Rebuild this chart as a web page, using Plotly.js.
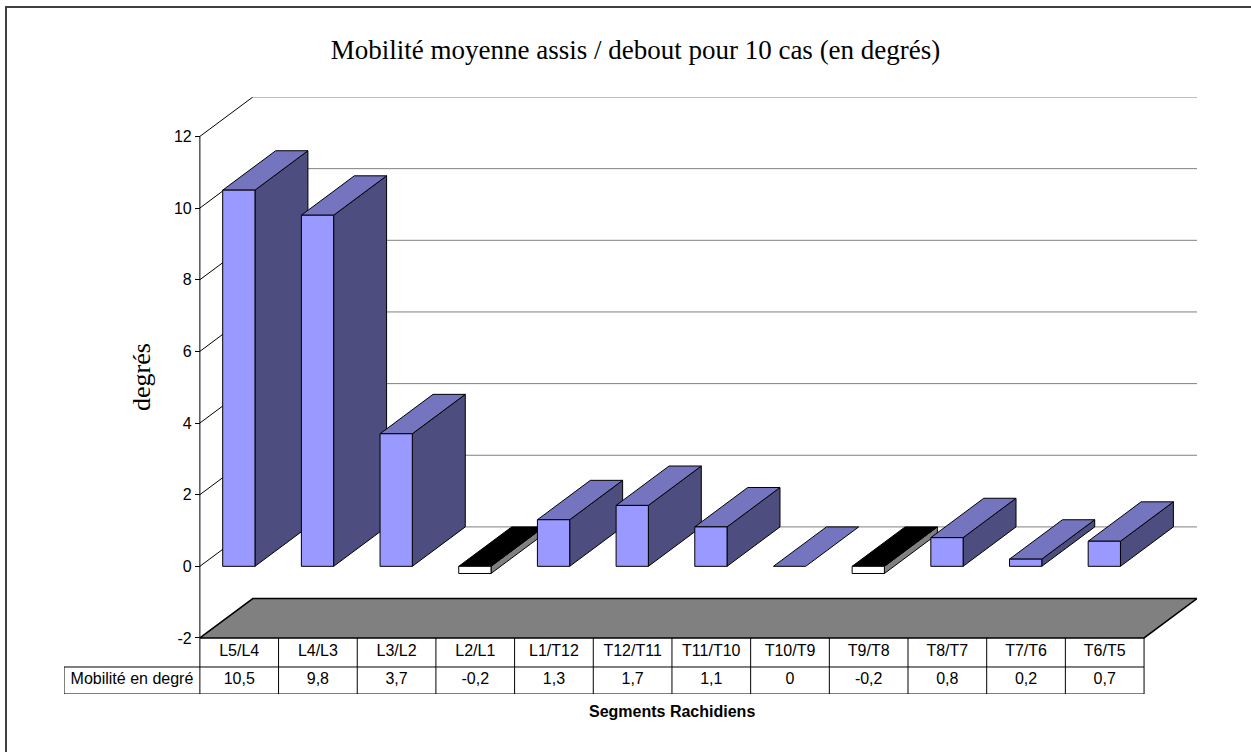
<!DOCTYPE html>
<html>
<head>
<meta charset="utf-8">
<script src="https://cdn.plot.ly/plotly-3.0.1.min.js"></script>
<style>html,body{margin:0;padding:0;background:#fff;}#chart{width:1251px;height:752px;}</style>
</head>
<body>
<div id="chart"></div>
<script>
// ---- data ----
const categories = ["L5/L4","L4/L3","L3/L2","L2/L1","L1/T12","T12/T11","T11/T10","T10/T9","T9/T8","T8/T7","T7/T6","T6/T5"];
const mobilite = [10.5, 9.8, 3.7, -0.2, 1.3, 1.7, 1.1, 0, -0.2, 0.8, 0.2, 0.7];
const yTicks = [-2, 0, 2, 4, 6, 8, 10, 12];
const rowHeader = "Mobilité en degré";
const chartTitle = "Mobilité moyenne assis / debout pour 10 cas (en degrés)";
const yTitle = "degrés";
const xTitle = "Segments Rachidiens";

// ---- geometry (data units) ----
const DX = 0.673, DY = 1.10;        // 3D depth offset
const B0 = 0.29, B1 = 0.70;         // bar front face inside category
const XMIN = -1.727, XMAX = 12 + DX;
const YMIN = -3.564, YMAX = 12 + DY;
const ROW1 = -2.81;                 // table row separator
const FLOOR = -2;

const FRONT = '#9999FF', TOP = '#7474BF', SIDE = '#4D4D7F';
const SANS = 'Liberation Sans, Arial, sans-serif';
const SERIF = 'Liberation Serif, Times New Roman, serif';

const traces = [];
function poly(xs, ys, fill, lw, lc) {
  traces.push({type:'scatter', mode:'lines', x: xs.concat([xs[0]]), y: ys.concat([ys[0]]),
    fill:'toself', fillcolor: fill, line:{color: lc || '#000', width: lw === undefined ? 1 : lw},
    hoverinfo:'skip', showlegend:false});
}
function line(xs, ys, color, w) {
  traces.push({type:'scatter', mode:'lines', x: xs, y: ys, line:{color: color, width: w},
    hoverinfo:'skip', showlegend:false, connectgaps:false});
}

// back wall horizontal gridlines (gray) & left wall diagonals (black)
const gx = [], gy = [], dx = [], dy = [];
yTicks.forEach(v => {
  if (v > FLOOR) {
    gx.push(DX, 12 + DX, null); gy.push(v + DY, v + DY, null);
    dx.push(0, DX, null); dy.push(v, v + DY, null);
  }
});
line(gx, gy, '#808080', 1);
line(dx, dy, '#000', 1);

// floor
poly([0, 12, 12 + DX, DX], [FLOOR, FLOOR, FLOOR + DY, FLOOR + DY], '#808080', 1.5);

// y axis line
line([0, 0], [FLOOR, 12], '#000', 1);

// bars
mobilite.forEach((v, i) => {
  const x0 = i + B0, x1 = i + B1;
  if (v > 0) {
    poly([x1, x1 + DX, x1 + DX, x1], [0, DY, v + DY, v], SIDE);
    poly([x0, x1, x1 + DX, x0 + DX], [v, v, v + DY, v + DY], TOP);
    poly([x0, x1, x1, x0], [0, 0, v, v], FRONT);
  } else if (v < 0) {
    poly([x1, x1 + DX, x1 + DX, x1], [v, v + DY, DY, 0], '#808080');
    poly([x0, x1, x1 + DX, x0 + DX], [0, 0, DY, DY], '#000000');
    poly([x0, x1, x1, x0], [v, v, 0, 0], '#FFFFFF');
  } else {
    poly([x0, x1, x1 + DX, x0 + DX], [0, 0, DY, DY], TOP);
  }
});

// data table lines
const tx = [], ty = [];
tx.push(XMIN, 12, null); ty.push(ROW1, ROW1, null);
tx.push(XMIN, 12, null); ty.push(YMIN, YMIN, null);
tx.push(XMIN, XMIN, null); ty.push(ROW1, YMIN, null);
for (let k = 0; k <= categories.length; k++) { tx.push(k, k, null); ty.push(FLOOR, YMIN, null); }
line(tx, ty, '#000', 1);

// table texts
const fmt = v => String(v).replace('.', ',');
traces.push({type:'scatter', mode:'text', x: categories.map((c, i) => i + 0.5),
  y: categories.map(() => (FLOOR + ROW1) / 2), text: categories, cliponaxis:false,
  textfont:{family: SANS, size:16, color:'#000'},
  hoverinfo:'skip', showlegend:false});
traces.push({type:'scatter', mode:'text', x: mobilite.map((v, i) => i + 0.5).concat([XMIN / 2]),
  y: mobilite.map(() => (ROW1 + YMIN) / 2).concat([(ROW1 + YMIN) / 2]),
  text: mobilite.map(fmt).concat([rowHeader]), cliponaxis:false,
  textfont:{family: SANS, size:16, color:'#000'},
  hoverinfo:'skip', showlegend:false});

const posY = (0 - XMIN) / (XMAX - XMIN);

const layout = {
  width: 1251, height: 752,
  margin: {l: 64, r: 54, t: 97, b: 58, pad: 0},
  paper_bgcolor: '#fff', plot_bgcolor: 'rgba(0,0,0,0)',
  showlegend: false,
  title: {text: chartTitle, font: {family: SERIF, size: 27, color: '#000'},
    x: 0.508, xref: 'container', xanchor: 'center', y: 1 - 50 / 752, yref: 'container', yanchor: 'middle'},
  xaxis: {range: [XMIN, XMAX], visible: false, fixedrange: true},
  yaxis: {range: [YMIN, YMAX], anchor: 'free', position: posY, tickvals: yTicks,
    ticktext: yTicks.map(String), ticks: 'outside', ticklen: 5, tickcolor: '#000', tickwidth: 1,
    showline: false, showgrid: false, zeroline: false, fixedrange: true,
    tickfont: {family: SANS, size: 16, color: '#000'}},
  annotations: [
    {text: '<b>' + xTitle + '</b>', xref: 'x', yref: 'paper', x: 6, y: -17 / 597,
      xanchor: 'center', yanchor: 'middle', showarrow: false,
      font: {family: SANS, size: 16, color: '#000'}},
    {text: yTitle, xref: 'paper', yref: 'paper', x: (141 - 64) / 1133, y: (694 - 377) / 597,
      xanchor: 'center', yanchor: 'middle', textangle: -90, showarrow: false,
      font: {family: SERIF, size: 26, color: '#000'}}
  ],
  shapes: [{type: 'path', xref: 'paper', yref: 'paper',
    path: 'M ' + ((6 - 64) / 1133) + ',' + (-0.2) + ' L ' + ((6 - 64) / 1133) + ',' + ((694 - 7) / 597) +
      ' L ' + (1.1) + ',' + ((694 - 7) / 597),
    line: {color: '#404040', width: 2}}]
};

Plotly.newPlot('chart', traces, layout, {displayModeBar: false, staticPlot: true});
</script>
</body>
</html>
